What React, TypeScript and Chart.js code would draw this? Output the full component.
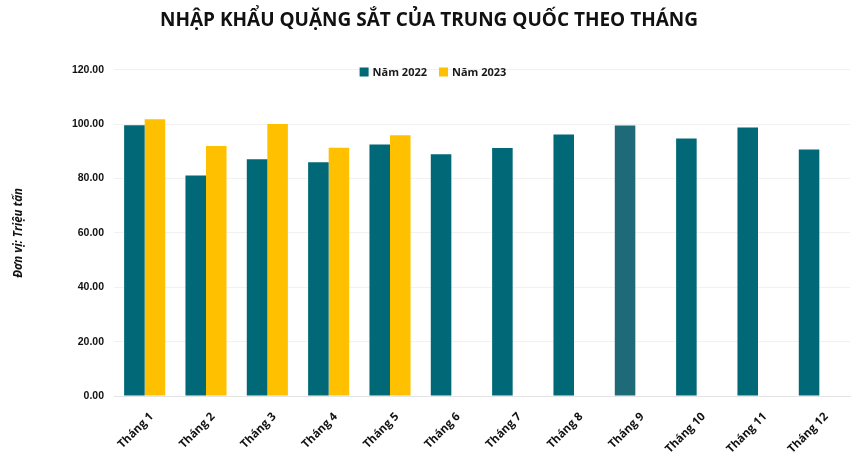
import React, { useEffect, useRef } from 'react';
import { Chart, registerables } from 'chart.js';

Chart.register(...registerables);

const months = ['Tháng 1', 'Tháng 2', 'Tháng 3', 'Tháng 4', 'Tháng 5', 'Tháng 6', 'Tháng 7', 'Tháng 8', 'Tháng 9', 'Tháng 10', 'Tháng 11', 'Tháng 12'];
const imports2022 = [99.6, 81.1, 87.1, 86.0, 92.5, 88.9, 91.2, 96.2, 99.5, 94.7, 98.8, 90.7];
const imports2023: (number | null)[] = [101.8, 92.0, 100.1, 91.3, 95.9, null, null, null, null, null, null, null];
const seriesNames = ['Năm 2022', 'Năm 2023'];

const TEAL = '#006876';
const TEAL_SEP = '#1f6a78'; // tháng 9 hơi nhạt hơn
const GOLD = '#ffc000';

// legend vẽ tay để nằm sát đường lưới 120
const topLegend = {
    id: 'topLegend',
    afterDraw(chart: Chart) {
        const ctx = chart.ctx;
        const box = 9;
        ctx.save();
        ctx.font = "bold 11px 'Open Sans', sans-serif";
        ctx.textBaseline = 'middle';
        const items = chart.data.datasets.map((ds: any) => ({ label: ds.label as string, color: ds.legendColor as string }));
        const widths = items.map((it) => box + 4 + ctx.measureText(it.label).width);
        const total = widths.reduce((a, b) => a + b, 0) + 12 * (items.length - 1);
        let x = 433 - total / 2;
        const y = 72;
        items.forEach((it, i) => {
            ctx.fillStyle = it.color;
            ctx.fillRect(x, y - box / 2, box, box);
            ctx.fillStyle = '#1a1a1a';
            ctx.fillText(it.label, x + box + 4, y + 0.5);
            x += widths[i] + 12;
        });
        ctx.restore();
    },
};

const App: React.FC = () => {
    const chartRef = useRef<HTMLCanvasElement>(null);
    const chartInstance = useRef<Chart | null>(null);

    useEffect(() => {
        document.body.style.margin = '0';
        if (!chartRef.current) return;
        const ctx = chartRef.current.getContext('2d');
        if (!ctx) return;
        if (chartInstance.current) chartInstance.current.destroy();

        chartInstance.current = new Chart(ctx, {
            type: 'bar',
            data: {
                labels: months,
                datasets: [
                    {
                        label: seriesNames[0],
                        data: imports2022,
                        backgroundColor: months.map((_, i) => (i === 8 ? TEAL_SEP : TEAL)),
                        legendColor: TEAL,
                        categoryPercentage: 0.67,
                        barPercentage: 1.0,
                    } as any,
                    {
                        label: seriesNames[1],
                        data: imports2023,
                        backgroundColor: GOLD,
                        legendColor: GOLD,
                        categoryPercentage: 0.67,
                        barPercentage: 1.0,
                    } as any,
                ],
            },
            options: {
                responsive: false,
                animation: false,
                layout: { padding: { left: 8, right: 9, top: 0, bottom: 0 } },
                plugins: {
                    legend: { display: false },
                    tooltip: { enabled: false },
                    title: {
                        display: true,
                        text: 'NHẬP KHẨU QUẶNG SẮT CỦA TRUNG QUỐC THEO THÁNG',
                        color: '#111',
                        font: { family: "'Open Sans', sans-serif", size: 19, weight: 'bold' },
                        padding: { top: 9, bottom: 38 },
                    },
                },
                scales: {
                    x: {
                        grid: { display: false },
                        border: { display: true, color: '#e4e4e4' },
                        ticks: {
                            color: '#111',
                            font: { family: "'Open Sans', sans-serif", size: 11.5, weight: 'bold' },
                            minRotation: 45,
                            maxRotation: 45,
                            padding: 6,
                            labelOffset: 7,
                        },
                        afterFit: (scale: any) => { scale.height = 60; },
                    },
                    y: {
                        min: 0,
                        max: 120,
                        ticks: {
                            stepSize: 20,
                            color: '#111',
                            padding: 10,
                            font: { family: "'Liberation Sans', Arial, sans-serif", size: 10.5, weight: 'bold' },
                            callback: (v: any) => Number(v).toFixed(2),
                        },
                        grid: { color: '#f1f1f1', drawTicks: false },
                        border: { display: false },
                        title: {
                            display: true,
                            text: 'Đơn vị: Triệu tấn',
                            color: '#111',
                            font: { family: "'Open Sans', sans-serif", size: 11.5, weight: 'bold', style: 'italic' },
                            padding: { top: 4, bottom: 4 },
                        },
                        afterFit: (scale: any) => { scale.width = 106; },
                    },
                },
            },
            plugins: [topLegend],
        });

        return () => {
            if (chartInstance.current) {
                chartInstance.current.destroy();
                chartInstance.current = null;
            }
        };
    }, []);

    return (
        <div style={{ width: 859, height: 456, background: '#fff' }}>
            <canvas ref={chartRef} width={859} height={456}></canvas>
        </div>
    );
};

export default App;
